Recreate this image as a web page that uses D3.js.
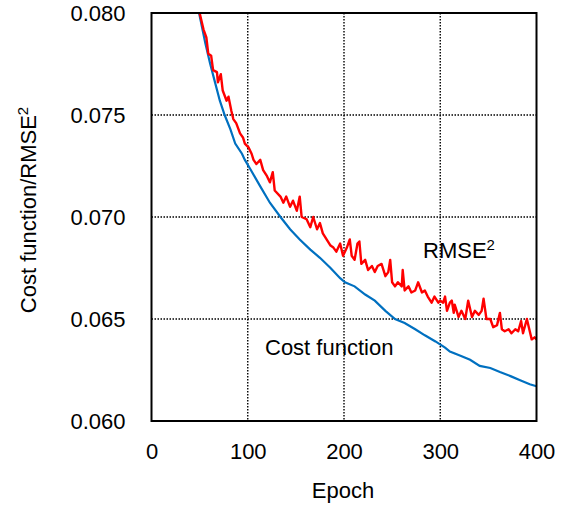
<!DOCTYPE html>
<html>
<head>
<meta charset="utf-8">
<script src="https://cdn.jsdelivr.net/npm/d3@7"></script>
<style>
  body { margin: 0; background: #fff; }
  text { font-family: Arial, "Liberation Sans", sans-serif; fill: #000; }
</style>
</head>
<body>
<svg width="570" height="506"></svg>
<script>
// cost function (blue)
var costEpoch = [49, 56, 61, 66, 71, 76, 82, 87, 94, 97, 102, 113, 123, 134, 144, 154, 165, 175, 186, 196,
                 201, 211, 222, 232, 243, 253, 263, 274, 284, 295, 305, 310, 321, 331, 341, 352, 362, 373, 383, 393, 400];
var costValue = [0.0801, 0.0785, 0.0775, 0.0766, 0.0757, 0.0750, 0.0743, 0.0736, 0.0731, 0.0728, 0.0724, 0.0715, 0.0707,
                 0.0700, 0.0694, 0.0689, 0.0684, 0.0680, 0.0675, 0.0670, 0.0668, 0.0666, 0.0662, 0.0659, 0.0654, 0.0650,
                 0.0648, 0.0645, 0.0642, 0.0639, 0.0636, 0.0634, 0.0632, 0.0630, 0.0627, 0.0626, 0.0624, 0.0622, 0.0620,
                 0.0618, 0.0617];

// RMSE^2 (red)
var rmseEpoch = [49, 50, 54, 57, 59, 62, 64, 68, 69, 72, 74, 78, 80, 83, 85, 88, 92, 95, 97, 101,
                 104, 106, 109, 113, 116, 120, 123, 126, 128, 134, 137, 140, 144, 147, 151, 154, 156, 161, 165, 168,
                 172, 175, 178, 186, 189, 192, 196, 199, 203, 206, 208, 211, 214, 216, 218, 222, 225, 229, 232, 235,
                 239, 243, 246, 248, 250, 253, 256, 260, 261, 263, 267, 270, 274, 277, 281, 284, 287, 291, 294, 298,
                 300, 303, 305, 307, 310, 312, 314, 315, 319, 322, 326, 329, 333, 336, 340, 343, 345, 348, 352, 355,
                 359, 362, 364, 367, 371, 374, 378, 381, 384, 386, 390, 393, 395, 398, 400];
var rmseValue = [0.0801, 0.0800, 0.0792, 0.0788, 0.0780, 0.0779, 0.0772, 0.0771, 0.0766, 0.0770, 0.0762, 0.0757, 0.0759,
                 0.0752, 0.0748, 0.0746, 0.0741, 0.0739, 0.0736, 0.0734, 0.0731, 0.0728, 0.0726, 0.0728, 0.0723, 0.0720,
                 0.0717, 0.0722, 0.0713, 0.0710, 0.0707, 0.0710, 0.0705, 0.0708, 0.0703, 0.0710, 0.0700, 0.0699, 0.0695,
                 0.0700, 0.0694, 0.0697, 0.0692, 0.0686, 0.0685, 0.0683, 0.0687, 0.0681, 0.0685, 0.0689, 0.0681, 0.0679,
                 0.0687, 0.0688, 0.0677, 0.0679, 0.0674, 0.0676, 0.0673, 0.0676, 0.0677, 0.0671, 0.0673, 0.0679, 0.0668,
                 0.0666, 0.0668, 0.0666, 0.0674, 0.0664, 0.0666, 0.0663, 0.0664, 0.0668, 0.0663, 0.0664, 0.0661, 0.0658,
                 0.0661, 0.0658, 0.0659, 0.0658, 0.0661, 0.0654, 0.0658, 0.0659, 0.0653, 0.0657, 0.0651, 0.0654, 0.0650,
                 0.0659, 0.0651, 0.0654, 0.0652, 0.0654, 0.0660, 0.0650, 0.0650, 0.0646, 0.0647, 0.0653, 0.0645, 0.0644,
                 0.0645, 0.0643, 0.0645, 0.0644, 0.0649, 0.0643, 0.0650, 0.0644, 0.0640, 0.0641, 0.0640];

var xTicks = [0, 100, 200, 300, 400];
var yTicks = [0.060, 0.065, 0.070, 0.075, 0.080];

var plotLeft = 151.5, plotRight = 536.5, plotTop = 13, plotBottom = 421;
var fontSize = 22;

var svg = d3.select('svg');

var x = d3.scaleLinear().domain([0, 400]).range([plotLeft, plotRight]);
var y = d3.scaleLinear().domain([0.060, 0.080]).range([plotBottom, plotTop]);

// dotted grid
svg.append('g')
  .selectAll('line')
  .data(xTicks.slice(1, -1))
  .enter()
  .append('line')
    .attr('x1', d => x(d)).attr('x2', d => x(d))
    .attr('y1', plotTop).attr('y2', plotBottom)
    .attr('stroke', '#000').attr('stroke-width', 1.4).attr('stroke-dasharray', '1.5,1.5');

svg.append('g')
  .selectAll('line')
  .data(yTicks.slice(1))
  .enter()
  .append('line')
    .attr('x1', plotLeft).attr('x2', plotRight)
    .attr('y1', d => y(d)).attr('y2', d => y(d))
    .attr('stroke', '#000').attr('stroke-width', 1.4).attr('stroke-dasharray', '1.5,1.5');

svg.append('clipPath').attr('id', 'plot')
  .append('rect').attr('x', plotLeft).attr('y', plotTop)
  .attr('width', plotRight - plotLeft).attr('height', plotBottom - plotTop);

var line = d3.line().x(d => x(d[0])).y(d => y(d[1]));

svg.append('path')
  .datum(d3.zip(costEpoch, costValue))
  .attr('clip-path', 'url(#plot)')
  .attr('fill', 'none').attr('stroke', '#0070c0').attr('stroke-width', 2.2)
  .attr('d', line);

svg.append('path')
  .datum(d3.zip(rmseEpoch, rmseValue))
  .attr('clip-path', 'url(#plot)')
  .attr('fill', 'none').attr('stroke', '#ff0000').attr('stroke-width', 2.4)
  .attr('stroke-linejoin', 'round')
  .attr('d', line);

// frame
svg.append('rect')
  .attr('x', plotLeft).attr('y', plotTop)
  .attr('width', plotRight - plotLeft).attr('height', plotBottom - plotTop)
  .attr('fill', 'none').attr('stroke', '#000').attr('stroke-width', 2);

// axes (labels only)
var xAxis = svg.append('g')
  .attr('transform', 'translate(0,' + plotBottom + ')')
  .call(d3.axisBottom(x).tickValues(xTicks).tickSize(0).tickPadding(22).tickFormat(d3.format('d')));
var yAxis = svg.append('g')
  .attr('transform', 'translate(' + plotLeft + ',0)')
  .call(d3.axisLeft(y).tickValues(yTicks).tickSize(0).tickPadding(26).tickFormat(d3.format('.3f')));
[xAxis, yAxis].forEach(g => {
  g.select('.domain').remove();
  g.selectAll('text').attr('font-size', fontSize)
    .attr('font-family', 'Arial, "Liberation Sans", sans-serif').attr('fill', '#000');
});

svg.append('text')
  .attr('x', 343).attr('y', 498)
  .attr('text-anchor', 'middle').attr('font-size', fontSize)
  .text('Epoch');

var yTitle = svg.append('text')
  .attr('transform', 'translate(36,210) rotate(-90)')
  .attr('text-anchor', 'middle').attr('font-size', fontSize);
yTitle.append('tspan').text('Cost function/RMSE');
yTitle.append('tspan').attr('font-size', 15).attr('dy', -8).text('2');

var rmseLabel = svg.append('text')
  .attr('x', 423).attr('y', 258).attr('font-size', fontSize);
rmseLabel.append('tspan').text('RMSE');
rmseLabel.append('tspan').attr('font-size', 15).attr('dy', -8).text('2');

svg.append('text')
  .attr('x', 265).attr('y', 355).attr('font-size', fontSize)
  .text('Cost function');
</script>
</body>
</html>
